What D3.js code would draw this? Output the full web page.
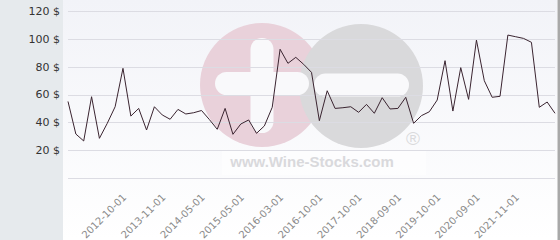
<!DOCTYPE html>
<html><head><meta charset="utf-8">
<script src="https://cdn.jsdelivr.net/npm/d3@7/dist/d3.min.js"></script>
<style>html,body{margin:0;padding:0;background:#fff;}svg{display:block;}</style>
</head><body>
<svg id="c" width="560" height="240"></svg>
<script>
const categories = [
"2011-03-01","2011-06-01","2011-09-01","2011-12-01","2012-02-01","2012-05-01","2012-07-01","2012-10-01",
"2012-12-01","2013-03-01","2013-05-01","2013-08-01","2013-11-01","2013-12-01","2014-01-01","2014-02-01",
"2014-04-01","2014-05-01","2014-07-01","2014-10-01","2014-12-01","2015-02-01","2015-05-01","2015-07-01",
"2015-09-01","2015-11-01","2016-01-01","2016-03-01","2016-04-01","2016-06-01","2016-07-01","2016-09-01",
"2016-10-01","2016-12-01","2017-03-01","2017-05-01","2017-07-01","2017-10-01","2017-12-01","2018-02-01",
"2018-04-01","2018-06-01","2018-09-01","2018-11-01","2019-02-01","2019-04-01","2019-07-01","2019-10-01",
"2019-12-01","2020-02-01","2020-04-01","2020-06-01","2020-09-01","2020-11-01","2021-02-01","2021-05-01",
"2021-08-01","2021-11-01","2022-01-01","2022-04-01","2022-07-01","2022-10-01","2023-01-01"];
const prices = [
55,31.6,26.6,58.4,28.5,39.3,51.2,78.8,
44.5,50,34.5,51.2,45.3,42.2,49.3,46,
46.9,48.5,42,35,50,31.4,38.8,41.7,
32.1,37.4,50.8,92.5,82.4,86.7,81.7,75.9,
41.2,62.7,50,50.5,51.2,47.2,52.9,46.5,
57.7,49.6,50,58,39.3,44.8,47.6,56,
84.3,48.1,79.3,56.5,99.1,69.9,58,58.7,
102.7,101.5,100.3,97.5,50.8,54.6,46.5];
const tickLabels = ["2012-10-01","2013-11-01","2014-05-01","2015-05-01","2016-03-01","2016-10-01",
"2017-10-01","2018-09-01","2019-10-01","2020-09-01","2021-11-01"];
const yTicks = [0,20,40,60,80,100,120];

const svg = d3.select("#c");
const defs = svg.append("defs");
const g1 = defs.append("linearGradient").attr("id","bg").attr("x1",0).attr("y1",0).attr("x2",0).attr("y2",1);
g1.append("stop").attr("offset","0%").attr("stop-color","#f2f3f8");
g1.append("stop").attr("offset","100%").attr("stop-color","#ffffff");

// panels
svg.append("rect").attr("x",0).attr("y",0).attr("width",63).attr("height",240).attr("fill","#e6eaed");
svg.append("rect").attr("x",63).attr("y",0).attr("width",494).attr("height",240).attr("fill","url(#bg)");
svg.append("rect").attr("x",557.5).attr("y",0).attr("width",2.5).attr("height",240).attr("fill","#a8a8a8");

const x = d3.scalePoint().domain(categories).range([68,555]);
const y = d3.scaleLinear().domain([0,120]).range([178,11]);

// watermark
const wm = svg.append("g");
wm.append("circle").attr("cx",262).attr("cy",85).attr("r",62).attr("fill","#e9d1da");
wm.append("circle").attr("cx",361).attr("cy",86).attr("r",62).attr("fill","#d9d9db");
wm.append("rect").attr("x",250.5).attr("y",38).attr("width",23).attr("height",95).attr("rx",11.5).attr("fill","#f9f9fb");
wm.append("rect").attr("x",215).attr("y",72).attr("width",94).attr("height",23).attr("rx",11.5).attr("fill","#f9f9fb");
wm.append("rect").attr("x",314).attr("y",73.5).attr("width",95).attr("height",23).attr("rx",11.5).attr("fill","#f9f9fb");
wm.append("rect").attr("x",222).attr("y",150).attr("width",204).attr("height",25).attr("fill","#ffffff").attr("opacity",0.55);
wm.append("text").attr("x",312).attr("y",167).attr("text-anchor","middle")
  .attr("font-family","Liberation Sans, Arial, sans-serif").attr("font-weight","bold").attr("font-size",15)
  .attr("fill","#d9d9dc").text("www.Wine-Stocks.com");
wm.append("text").attr("x",413).attr("y",145).attr("text-anchor","middle")
  .attr("font-family","Liberation Sans, Arial, sans-serif").attr("font-size",19)
  .attr("fill","#dadadc").text("®");

// grid
svg.append("g").selectAll("line").data(yTicks).join("line")
  .attr("x1",68).attr("x2",555)
  .attr("y1",d=>Math.round(y(d))+0.5).attr("y2",d=>Math.round(y(d))+0.5)
  .attr("stroke","#dcdce3").attr("stroke-width",1);

// y labels
svg.append("g").selectAll("text").data(yTicks.filter(d=>d>0)).join("text")
  .attr("x",60).attr("y",d=>y(d)).attr("dy","0.35em").attr("text-anchor","end")
  .attr("font-family","DejaVu Sans, sans-serif").attr("font-size",11).attr("fill","#333")
  .text(d=>d+" $");

// x labels
svg.append("g").selectAll("text").data(tickLabels).join("text")
  .attr("text-anchor","end")
  .attr("transform",d=>`translate(${x(d)+4},${198}) rotate(-45)`)
  .attr("font-family","DejaVu Sans, sans-serif").attr("font-size",10).attr("fill","#8a8a8a")
  .text(d=>d);

// line
const line = d3.line().x((d,i)=>x(categories[i])).y(d=>y(d));
svg.append("path").datum(prices).attr("d",line).attr("fill","none")
  .attr("stroke","#3a2430").attr("stroke-width",1).attr("stroke-linejoin","round");
</script>
</body></html>
